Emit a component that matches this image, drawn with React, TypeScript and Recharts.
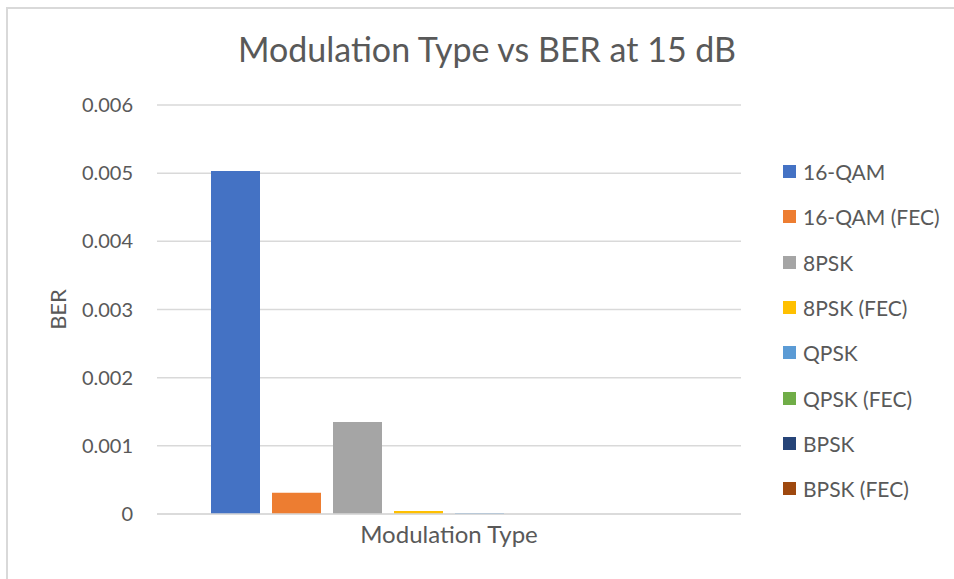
import { Bar, BarChart, CartesianGrid, XAxis, YAxis } from "recharts";

const categories = ["Modulation Type"];
const seriesNames = [
  "16-QAM",
  "16-QAM (FEC)",
  "8PSK",
  "8PSK (FEC)",
  "QPSK",
  "QPSK (FEC)",
  "BPSK",
  "BPSK (FEC)",
];
// BER at 15 dB, one value per series
const berValues = [0.00503, 0.00031, 0.00135, 0.000045, 0.000015, 0, 0, 0];
const yTicks = [0, 0.001, 0.002, 0.003, 0.004, 0.005, 0.006];

const seriesColors = [
  "#4472c4",
  "#ed7d31",
  "#a5a5a5",
  "#ffc000",
  "#5b9bd5",
  "#70ad47",
  "#264478",
  "#9e480e",
];

const data = categories.map((name) => {
  const row: Record<string, string | number> = { name };
  seriesNames.forEach((s, i) => {
    row[s] = berValues[i];
  });
  return row;
});

const FONT = "Lato, 'Liberation Sans', sans-serif";
const TEXT = "#595959";
const GRID = "#d9d9d9";

function LegendList() {
  return (
    <div
      style={{
        position: "absolute",
        left: 783,
        top: 149,
        width: 171,
        fontFamily: FONT,
        fontSize: 21,
        color: TEXT,
      }}
    >
      {seriesNames.map((s, i) => (
        <div
          key={s}
          style={{ display: "flex", alignItems: "center", height: 45.3 }}
        >
          <span
            style={{
              width: 13,
              height: 13,
              background: seriesColors[i],
              display: "inline-block",
              marginRight: 7,
            }}
          />
          <span>{s}</span>
        </div>
      ))}
    </div>
  );
}

export default function App() {
  return (
    <div
      style={{
        position: "absolute",
        left: 0,
        top: 0,
        width: 954,
        height: 579,
        background: "#fff",
        overflow: "hidden",
      }}
    >
      <div
        style={{
          position: "absolute",
          left: 6,
          top: 7,
          width: 970,
          height: 600,
          borderLeft: `2px solid ${GRID}`,
          borderTop: `2px solid ${GRID}`,
        }}
      />
      <div
        style={{
          position: "absolute",
          left: 6,
          width: 962,
          top: 28,
          textAlign: "center",
          fontFamily: FONT,
          fontSize: 34,
          color: TEXT,
        }}
      >
        Modulation Type vs BER at 15 dB
      </div>
      <BarChart
        width={954}
        height={579}
        data={data}
        margin={{ top: 105, right: 213, left: 77, bottom: 25 }}
        barCategoryGap={54}
        barGap={12}
        style={{ position: "absolute", left: 0, top: 0 }}
      >
        <CartesianGrid vertical={false} stroke={GRID} strokeWidth={1.5} />
        <XAxis
          dataKey="name"
          tickLine={false}
          axisLine={{ stroke: GRID, strokeWidth: 1.5 }}
          tick={{ fill: TEXT, fontSize: 24, fontFamily: FONT }}
          height={40}
          tickMargin={6}
        />
        <YAxis
          width={80}
          domain={[0, 0.006]}
          ticks={yTicks}
          tickLine={false}
          axisLine={false}
          tick={{ fill: TEXT, fontSize: 20, fontFamily: FONT }}
          tickMargin={18}
          label={{
            value: "BER",
            content: (props: any) => {
              const vb = props.viewBox;
              const x = vb.x - 20;
              const y = vb.y + vb.height / 2;
              return (
                <text
                  x={x}
                  y={y}
                  transform={`rotate(-90, ${x}, ${y})`}
                  textAnchor="middle"
                  dominantBaseline="central"
                  fill={TEXT}
                  fontSize={22}
                  fontFamily={FONT}
                >
                  BER
                </text>
              );
            },
          }}
        />
        {seriesNames.map((s, i) => (
          <Bar
            key={s}
            dataKey={s}
            fill={seriesColors[i]}
            isAnimationActive={false}
          />
        ))}
      </BarChart>
      <LegendList />
    </div>
  );
}
